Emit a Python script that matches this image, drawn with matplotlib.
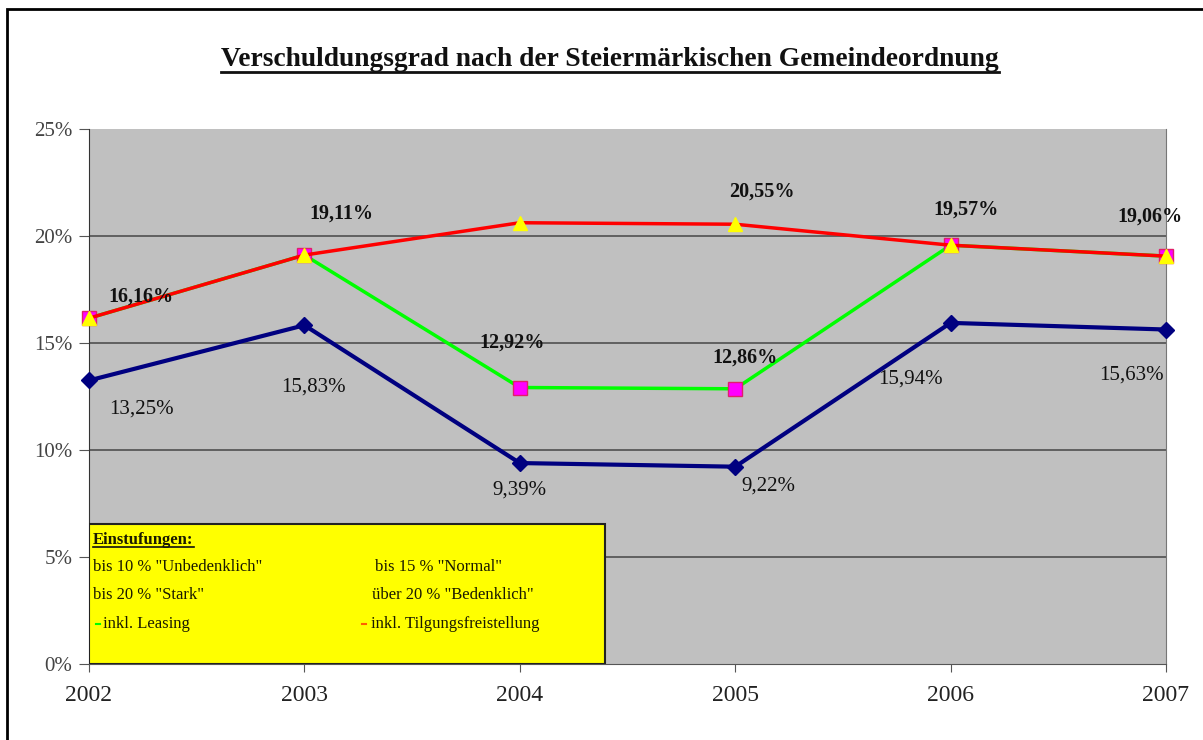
import matplotlib
matplotlib.use("Agg")
import matplotlib.pyplot as plt
from matplotlib.patches import Rectangle
from matplotlib.lines import Line2D

# Daten
jahre = [2002, 2003, 2004, 2005, 2006, 2007]
grad = [13.25, 15.83, 9.39, 9.22, 15.94, 15.63]
inkl_leasing = [16.16, 19.11, 12.92, 12.86, 19.57, 19.06]
inkl_tilgung = [16.16, 19.11, 20.62, 20.55, 19.57, 19.06]

# Beschriftungen (Offset in Pixel)
grad_offsets = [(52, -29), (9, -62), (0, -27), (33, -19), (-40, -56), (-35, -46)]
leasing_offsets = [(52, 22), (37, 41), (-8, 45), (10, 31), (15, 36), (-16, 40)]
tilgung_label_idx = 3
tilgung_offset = (27, 33)

SERIF = "Liberation Serif"

fig = plt.figure(figsize=(12.03, 7.40), dpi=100)
W, H = 1203, 740

# aeusserer Rahmen
fig.patches.append(Rectangle((7 / W, -0.1), 1.2, 1 - 9 / H + 0.1, transform=fig.transFigure,
                             fill=False, edgecolor="black", linewidth=2))

ax = fig.add_axes([89 / W, 1 - 664 / H, (1166 - 89) / W, (664 - 129) / H])
ax.set_facecolor("#c0c0c0")

ax.plot(jahre, grad, color="#000080", lw=3, marker="D", markersize=8, zorder=3, clip_on=False)
ax.plot(jahre, inkl_leasing, color="#00ff00", lw=2.5, marker="s", markersize=10,
        markerfacecolor="#ff00ff", markeredgecolor="#e0206a", markeredgewidth=1, zorder=4, clip_on=False)
ax.plot(jahre, inkl_tilgung, color="#ff0000", lw=2.5, marker="^", markersize=10,
        markerfacecolor="#ffff00", markeredgecolor="#ffff00", zorder=5, clip_on=False)

def fmt(v):
    return f"{v:.2f}".replace(".", ",") + "%"

for x, y, off in zip(jahre, grad, grad_offsets):
    ax.annotate(fmt(y), (x, y), xytext=off, textcoords="offset pixels", ha="center", va="center",
                fontsize=15, family=SERIF, color="#111111", zorder=6)
for x, y, off in zip(jahre, inkl_leasing, leasing_offsets):
    ax.annotate(fmt(y), (x, y), xytext=off, textcoords="offset pixels", ha="center", va="center",
                fontsize=14.5, family=SERIF, fontweight="bold", color="#111111", zorder=6)
ax.annotate(fmt(inkl_tilgung[tilgung_label_idx]), (jahre[tilgung_label_idx], inkl_tilgung[tilgung_label_idx]),
            xytext=tilgung_offset, textcoords="offset pixels", ha="center", va="center",
            fontsize=14.5, family=SERIF, fontweight="bold", color="#111111", zorder=6)

ax.set_xlim(2002, 2007)
ax.set_ylim(0, 25)
ax.set_xticks(jahre)
ax.set_xticklabels([str(j) for j in jahre], family=SERIF, fontsize=17, color="#222222")
ax.set_yticks([0, 5, 10, 15, 20, 25])
ax.set_yticklabels([f"{v}%" for v in [0, 5, 10, 15, 20, 25]], family=SERIF, fontsize=15, color="#444444")
ax.tick_params(axis="y", direction="out", length=7, color="#555555", pad=5)
ax.tick_params(axis="x", direction="out", length=6, color="#555555", pad=9)
for v in [5, 10, 15, 20]:
    ax.axhline(v, color="#505050", lw=1.2, zorder=1)

ax.spines["top"].set_visible(False)
ax.spines["left"].set_color("#333333")
ax.spines["bottom"].set_color("#555555")
ax.spines["right"].set_color("#777777")
ax.spines["right"].set_linewidth(0.8)

# Einstufungs-Kasten
bw, bh = (605 - 89) / (1166 - 89), (664 - 524) / (664 - 129)
ax.add_patch(Rectangle((0, 0), bw, bh, transform=ax.transAxes, facecolor="#ffff00",
                       edgecolor="#222222", linewidth=1.5, zorder=7))

def px(x, y):
    # Pixelkoordinaten -> Figurenkoordinaten
    return x / W, 1 - y / H

tk = dict(family=SERIF, fontsize=12, color="#1a1a00", va="center", ha="left", zorder=8)
t_ein = fig.text(*px(93, 540), "Einstufungen:", fontweight="bold", **tk)
fig.text(*px(93, 567), 'bis 10 % "Unbedenklich"', **tk)
fig.text(*px(375, 567), 'bis 15 % "Normal"', **tk)
fig.text(*px(93, 595), 'bis 20 % "Stark"', **tk)
fig.text(*px(372, 595), 'über 20 % "Bedenklich"', **tk)
fig.text(*px(103, 624), "inkl. Leasing", **tk)
fig.text(*px(371, 624), "inkl. Tilgungsfreistellung", **tk)
fig.lines.append(Line2D([96 / W, 100 / W], [1 - 624 / H] * 2, transform=fig.transFigure,
                        color="#00ff00", lw=1.5))
fig.lines.append(Line2D([362 / W, 366 / W], [1 - 624 / H] * 2, transform=fig.transFigure,
                        color="#ff6000", lw=1.5))

# Titel
t_tit = fig.text(610 / W, 1 - 60 / H, "Verschuldungsgrad nach der Steiermärkischen Gemeindeordnung",
                 family=SERIF, fontweight="bold", fontsize=19.8, ha="center", va="center", color="#111111")

# Unterstreichungen
r = fig.canvas.get_renderer()
for t, lw in [(t_tit, 2), (t_ein, 1.2)]:
    bb = t.get_window_extent(renderer=r)
    y = bb.y0 + 1
    fig.lines.append(Line2D([bb.x0 / W, bb.x1 / W], [y / H, y / H], transform=fig.transFigure,
                            color="#111111", lw=lw, zorder=9))

fig.savefig("out.png", dpi=100)
